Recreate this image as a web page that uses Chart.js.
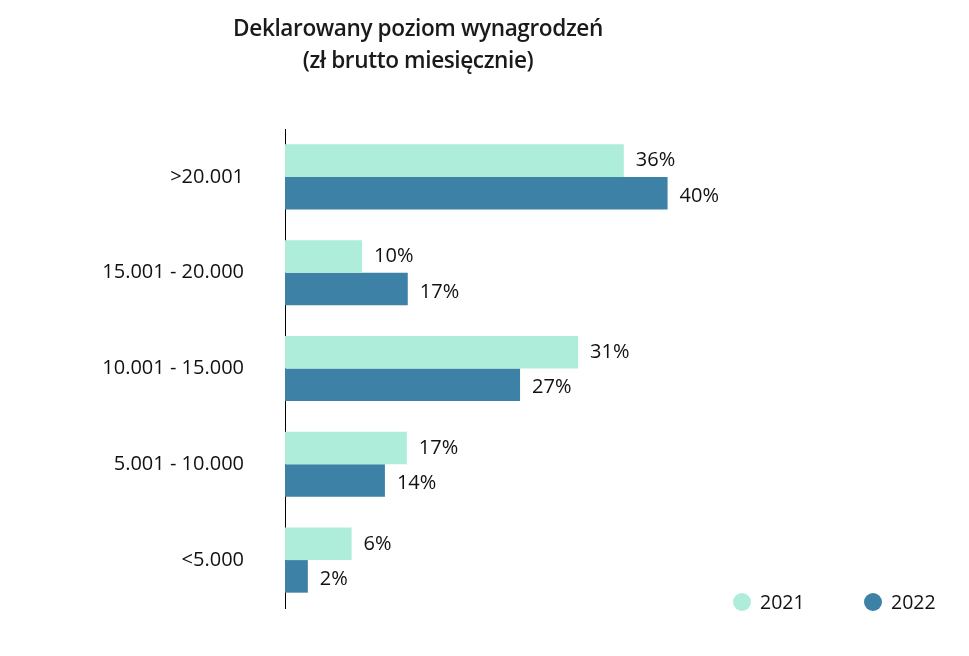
<!DOCTYPE html>
<html>
<head>
<meta charset="utf-8">
<script src="https://cdn.jsdelivr.net/npm/chart.js@4.4.1/dist/chart.umd.min.js"></script>
<style>
  html, body { margin: 0; padding: 0; background: #fff; }
  #wrap { position: relative; width: 969px; height: 656px; }
  #title {
    position: absolute; left: 0; top: 12px; width: 836px;
    text-align: center; font-family: 'Open Sans', sans-serif;
    font-weight: 600; font-size: 22.6px; line-height: 32px; color: #1a1a1a;
    letter-spacing: -0.4px;
  }
</style>
</head>
<body>
<div id="wrap">
  <div id="title">Deklarowany poziom wynagrodzeń<br>(zł brutto miesięcznie)</div>
  <canvas id="chart" width="969" height="656"></canvas>
</div>
<script>
// Salary brackets, top to bottom
const brackets = ['>20.001', '15.001 - 20.000', '10.001 - 15.000', '5.001 - 10.000', '<5.000'];

// Bar lengths (% of respondents)
const share2021 = [35.6, 8.1, 30.8, 12.8, 7.0];
const share2022 = [40.2, 12.9, 24.7, 10.5, 2.4];

// Printed labels next to the bars
const labels2021 = ['36%', '10%', '31%', '17%', '6%'];
const labels2022 = ['40%', '17%', '27%', '14%', '2%'];

const seriesNames = ['2021', '2022'];
const colors = ['#ADEDD9', '#3E81A7'];

const textFont = "'Open Sans', sans-serif";

// Draws the value text just right of each bar
const barLabels = {
  id: 'barLabels',
  afterDatasetsDraw(chart) {
    const ctx = chart.ctx;
    const texts = [labels2021, labels2022];
    ctx.save();
    ctx.font = `20px ${textFont}`;
    ctx.fillStyle = '#111';
    ctx.textAlign = 'left';
    ctx.textBaseline = 'middle';
    chart.data.datasets.forEach((ds, di) => {
      chart.getDatasetMeta(di).data.forEach((bar, i) => {
        ctx.fillText(texts[di][i], bar.x + 12, bar.y + (di === 1 ? 3 : 0));
      });
    });
    ctx.restore();
  }
};

// Legend in the lower right corner, round markers
const cornerLegend = {
  id: 'cornerLegend',
  afterDraw(chart) {
    const ctx = chart.ctx;
    const items = [{ x: 742 }, { x: 873 }];
    const y = 602;
    ctx.save();
    ctx.font = `19.5px ${textFont}`;
    ctx.textBaseline = 'middle';
    ctx.textAlign = 'left';
    chart.data.datasets.forEach((ds, i) => {
      ctx.fillStyle = ds.backgroundColor;
      ctx.beginPath();
      ctx.arc(items[i].x, y, 9, 0, Math.PI * 2);
      ctx.fill();
      ctx.fillStyle = '#111';
      ctx.fillText(ds.label, items[i].x + 18, y + 1);
    });
    ctx.restore();
  }
};

new Chart(document.getElementById('chart'), {
  type: 'bar',
  data: {
    labels: brackets,
    datasets: [
      { label: seriesNames[0], data: share2021, backgroundColor: colors[0] },
      { label: seriesNames[1], data: share2022, backgroundColor: colors[1] }
    ]
  },
  options: {
    indexAxis: 'y',
    responsive: false,
    animation: false,
    devicePixelRatio: 1,
    layout: { padding: { top: 129, bottom: 48, left: 0, right: 113 } },
    datasets: {
      bar: { barPercentage: 1.0, categoryPercentage: 0.68 }
    },
    plugins: {
      legend: { display: false },
      title: { display: false },
      tooltip: { enabled: false }
    },
    scales: {
      x: { display: false, min: 0, max: 60 },
      y: {
        afterFit(scale) {
          // fixed axis position; drop the label overhang so the area reaches y=608
          scale.width = 285;
          scale.paddingTop = 0;
          scale.paddingBottom = 0;
        },
        grid: { display: false, drawTicks: false },
        border: { display: true, color: '#000', width: 1 },
        ticks: {
          padding: 41,
          color: '#111',
          font: { family: textFont, size: 20 }
        }
      }
    }
  },
  plugins: [barLabels, cornerLegend]
});
</script>
</body>
</html>
